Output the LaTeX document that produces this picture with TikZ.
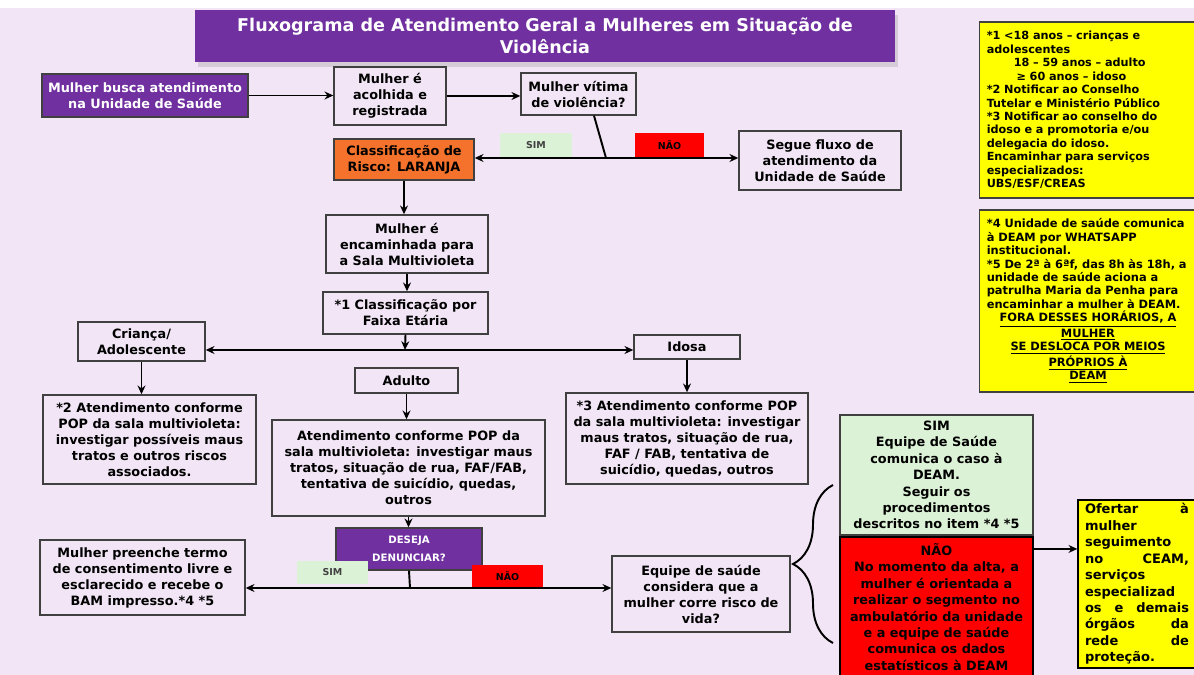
\documentclass[tikz,border=0pt]{standalone}
\usepackage{fontspec}
\setmainfont{DejaVu Sans}
\usetikzlibrary{arrows.meta,shadows,decorations.pathreplacing}
\definecolor{fundo}{HTML}{F2E6F6}
\definecolor{roxo}{HTML}{7030A0}
\definecolor{laranja}{HTML}{F4722B}
\definecolor{vermelho}{HTML}{FF0000}
\definecolor{amarelo}{HTML}{FFFF00}
\definecolor{verde}{HTML}{DCF2D6}
\definecolor{borda}{HTML}{404040}
\setlength{\parindent}{0pt}

\begin{document}
\begin{tikzpicture}[x=0.02cm, y=-0.02cm, >={Stealth[length=5pt,width=4.5pt]},
    caixa/.style={draw=borda, line width=0.8pt, fill=fundo, align=center, inner sep=1pt,
      font=\bfseries\fontsize{7.3}{9.1}\selectfont,
      drop shadow={shadow xshift=0.8pt, shadow yshift=-0.8pt, opacity=0.3}},
    caixaroxa/.style={caixa, fill=roxo, text=white},
    rotulo/.style={inner sep=0pt, font=\bfseries\fontsize{5.4}{6.5}\selectfont},
    nota/.style={draw=borda, line width=0.6pt, fill=amarelo, inner xsep=4pt, inner ysep=2pt,
      font=\bfseries\fontsize{6.4}{7.65}\selectfont,
      drop shadow={shadow xshift=0.8pt, shadow yshift=-0.8pt, opacity=0.3}},
    seta/.style={->, line width=1.1pt}]
  \useasboundingbox (0,0) rectangle (1194,675);
  \fill[fundo] (0,0) rectangle (1194,675);
  \fill[white] (0,0) rectangle (1194,8);

  \node[fill=roxo, text=white, align=center, minimum width=14cm, minimum height=1.04cm,
    font=\bfseries\fontsize{10}{12.5}\selectfont,
    drop shadow={shadow xshift=1.5pt, shadow yshift=-3pt, opacity=0.25}] (titulo) at (545,36)
    {Fluxograma de Atendimento Geral a Mulheres em Situação de\\Violência};

  \node[caixaroxa, minimum width=4.12cm, minimum height=0.86cm] (busca) at (145,95.5) {Mulher busca atendimento\\na Unidade de Saúde};
  \node[caixa, minimum width=2.24cm, minimum height=1.16cm] (acolhida) at (390,96) {Mulher é\\acolhida e\\registrada};
  \node[caixa, minimum width=2.3cm, minimum height=0.84cm] (vitima) at (578.5,94) {Mulher vítima\\de violência?};
  \node[caixa, fill=laranja, minimum width=2.8cm, minimum height=0.82cm] (classif) at (404,159.5) {Classificação de\\Risco: LARANJA};
  \node[caixa, minimum width=3.24cm, minimum height=1.18cm] (segue) at (820,160.5) {Segue fluxo de\\atendimento da\\Unidade de Saúde};
  \node[caixa, minimum width=3.24cm, minimum height=1.16cm] (sala) at (407,244) {Mulher é\\encaminhada para\\a Sala Multivioleta};
  \node[caixa, minimum width=3.3cm, minimum height=0.84cm] (faixa) at (405.5,313) {*1 Classificação por\\Faixa Etária};
  \node[caixa, minimum width=2.54cm, minimum height=0.78cm] (crianca) at (141.5,341.5) {Criança/\\Adolescente};
  \node[caixa, minimum width=2.12cm, minimum height=0.48cm] (idosa) at (687,347) {Idosa};
  \node[caixa, minimum width=2.06cm, minimum height=0.5cm] (adulto) at (406.5,380.5) {Adulto};
  \node[caixa, minimum width=4.26cm, minimum height=1.78cm] (pop2) at (149.5,439.5) {*2 Atendimento conforme\\POP da sala multivioleta:\\investigar possíveis maus\\tratos e outros riscos\\associados.};
  \node[caixa, minimum width=5.46cm, minimum height=1.92cm] (pop) at (408.5,468) {Atendimento conforme POP da\\sala multivioleta: investigar maus\\tratos, situação de rua, FAF/FAB,\\tentativa de suicídio, quedas,\\outros};
  \node[caixa, minimum width=4.84cm, minimum height=1.82cm] (pop3) at (687,438.5) {*3 Atendimento conforme POP\\da sala multivioleta: investigar\\maus tratos, situação de rua,\\FAF / FAB, tentativa de\\suicídio, quedas, outros};
  \node[caixaroxa, minimum width=2.92cm, minimum height=0.84cm, font=\bfseries\fontsize{5.8}{10}\selectfont] (deseja) at (409,549) {DESEJA\\DENUNCIAR?};
  \node[caixa, minimum width=4.1cm, minimum height=1.5cm] (termo) at (142.5,577.5) {Mulher preenche termo\\de consentimento livre e\\esclarecido e recebe o\\BAM impresso.*4 *5};
  \node[caixa, minimum width=3.56cm, minimum height=1.52cm] (equipe) at (701,594) {Equipe de saúde\\considera que a\\mulher corre risco de\\vida?};
  \node[caixa, fill=verde, minimum width=3.86cm, minimum height=2.4cm, font=\bfseries\fontsize{7.3}{9.35}\selectfont] (simcaixa) at (936.5,475) {SIM\\Equipe de Saúde\\comunica o caso à\\DEAM.\\Seguir os\\procedimentos\\descritos no item *4 *5};
  \node[caixa, fill=vermelho, draw=black, line width=1.2pt, minimum width=3.86cm, minimum height=2.8cm, font=\bfseries\fontsize{7.3}{9.35}\selectfont] (naocaixa) at (936.5,607) {NÃO\\No momento da alta, a\\mulher é orientada a\\realizar o segmento no\\ambulatório da unidade\\e a equipe de saúde\\comunica os dados\\estatísticos à DEAM};
  \node[caixa, fill=amarelo, draw=black, minimum width=2.36cm, minimum height=3.36cm, text width=2.08cm, align=none, font=\bfseries\fontsize{7.4}{9.35}\selectfont] (ofertar) at (1137,584) {Ofertar\hfill à\\mulher\\seguimento\\no\hfill CEAM,\\serviços\\especializad\\os\hfill e\hfill demais\\órgãos\hfill da\\rede\hfill de\\proteção.};

  \node[nota, minimum width=4.32cm, minimum height=3.52cm, text width=4.05cm] (nota1) at (1088,110) {*1 <18 anos – crianças e\\adolescentes\\\hspace*{2.4em}18 – 59 anos – adulto\\\hspace*{2.65em}≥ 60 anos – idoso\\{}*2 Notificar ao Conselho\\Tutelar e Ministério Público\\{}*3 Notificar ao conselho do\\idoso e a promotoria e/ou\\delegacia do idoso.\\Encaminhar para serviços\\especializados:\\UBS/ESF/CREAS};
  \node[nota, minimum width=4.32cm, minimum height=3.64cm, text width=4.05cm, font=\bfseries\fontsize{6.5}{7.65}\selectfont] (nota2) at (1088,301) {{\raggedright *4 Unidade de saúde comunica\\à DEAM por WHATSAPP\\institucional.\\{}*5 De 2ª à 6ªf, das 8h às 18h, a\\unidade de saúde aciona a\\patrulha Maria da Penha para\\encaminhar a mulher à DEAM.\par}{\centering\underline{FORA DESSES HORÁRIOS, A}\\\underline{MULHER}\\\underline{SE DESLOCA POR MEIOS}\\\underline{PRÓPRIOS À}\\\underline{DEAM}\par}};

  \coordinate (j1) at (606,158);
  \coordinate (j2) at (405,350);
  \coordinate (j3) at (410,588);
  \coordinate (chavebaixo) at (833,643);
  \coordinate (chavetopo) at (833,485);
  \coordinate (na) at ([yshift=-0.26cm]naocaixa.north east);

  \draw[seta] (busca) -- (busca -| acolhida.west);
  \draw[seta] (acolhida.east) -- (acolhida.east -| vitima.west);
  \draw[line width=1.1pt] ([xshift=0.31cm]vitima.south) -- (j1);
  \draw[seta] (j1) -- (j1 -| classif.east);
  \draw[seta] (j1) -- (j1 -| segue.west);
  \draw[seta] (classif.south) -- (classif.south |- sala.north);
  \draw[seta] (sala.south) -- (sala.south |- faixa.north);
  \draw[seta] (faixa.south) -- (j2);
  \draw[seta, <->] (crianca.east |- j2) -- (j2 -| idosa.west);
  \draw[seta] (crianca.south) -- (crianca.south |- pop2.north);
  \draw[seta] (idosa.south) -- (idosa.south |- pop3.north);
  \draw[seta] (adulto.south) -- (adulto.south |- pop.north);
  \draw[seta] (pop.south) -- (pop.south |- deseja.north);
  \draw[line width=1.1pt] (deseja.south) -- (j3);
  \draw[seta] (j3) -- (j3 -| termo.east);
  \draw[seta] (j3) -- (j3 -| equipe.west);
  \draw[line width=1.1pt, decorate, decoration={brace, amplitude=0.8cm}] (chavebaixo) -- (chavetopo);
  \draw[seta] (na) -- (na -| ofertar.west);

  \node[rotulo, fill=verde, minimum width=1.44cm, minimum height=0.48cm, text=borda] (sim1) at (536,145) {SIM};
  \node[rotulo, fill=vermelho, minimum width=1.38cm, minimum height=0.48cm] (nao1) at (669.5,145) {NÃO};
  \node[rotulo, fill=verde, minimum width=1.42cm, minimum height=0.46cm, text=borda] (sim2) at (332.5,572.5) {SIM};
  \node[rotulo, fill=vermelho, minimum width=1.42cm, minimum height=0.44cm] (nao2) at (507.5,576) {NÃO};
\end{tikzpicture}
\end{document}
